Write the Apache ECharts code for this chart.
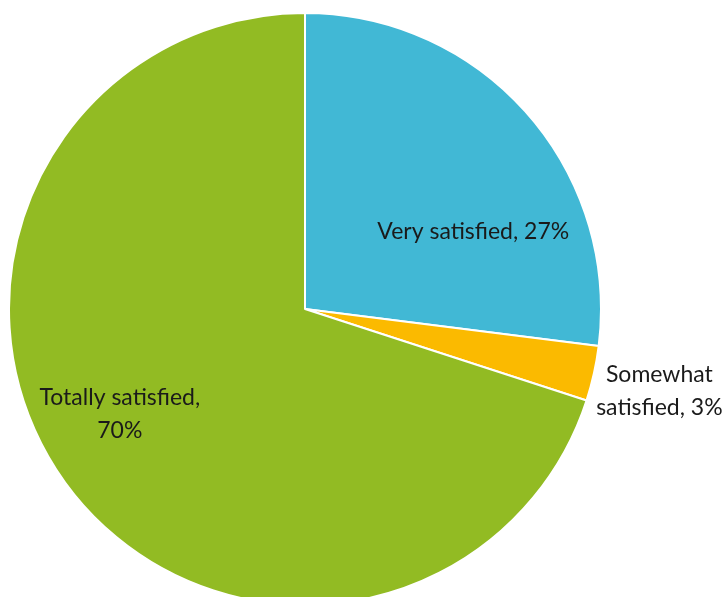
<!DOCTYPE html>
<html><head><meta charset="utf-8">
<script src="https://cdn.jsdelivr.net/npm/echarts@6/dist/echarts.min.js"></script>
<style>html,body{margin:0;padding:0;background:#fff}#c{width:724px;height:597px}</style>
</head><body><div id="c"></div>
<script>
const categories = ['Very satisfied', 'Somewhat satisfied', 'Totally satisfied'];
const labelTexts = ['Very satisfied, 27%', 'Somewhat\nsatisfied, 3%', 'Totally satisfied,\n70%'];
const values = [27, 3, 70];
const colors = ['#41B8D5', '#FBBA00', '#92BB23'];
const offsets = [[55, 22], [207, 49], [-63, 16]];

const chart = echarts.init(document.getElementById('c'));
chart.setOption({
  animation: false,
  series: [{
    type: 'pie',
    center: [305, 309],
    radius: [0, 296],
    startAngle: 90,
    clockwise: true,
    avoidLabelOverlap: false,
    itemStyle: { borderColor: '#fff', borderWidth: 2 },
    label: {
      show: true,
      position: 'inside',
      fontFamily: 'Lato',
      fontSize: 23,
      color: '#1a1a1a',
      lineHeight: 33,
      align: 'center'
    },
    labelLine: { show: false },
    data: values.map((v, i) => ({
      value: v,
      name: categories[i],
      itemStyle: { color: colors[i] },
      label: { formatter: labelTexts[i], offset: offsets[i] }
    }))
  }]
});
</script></body></html>
